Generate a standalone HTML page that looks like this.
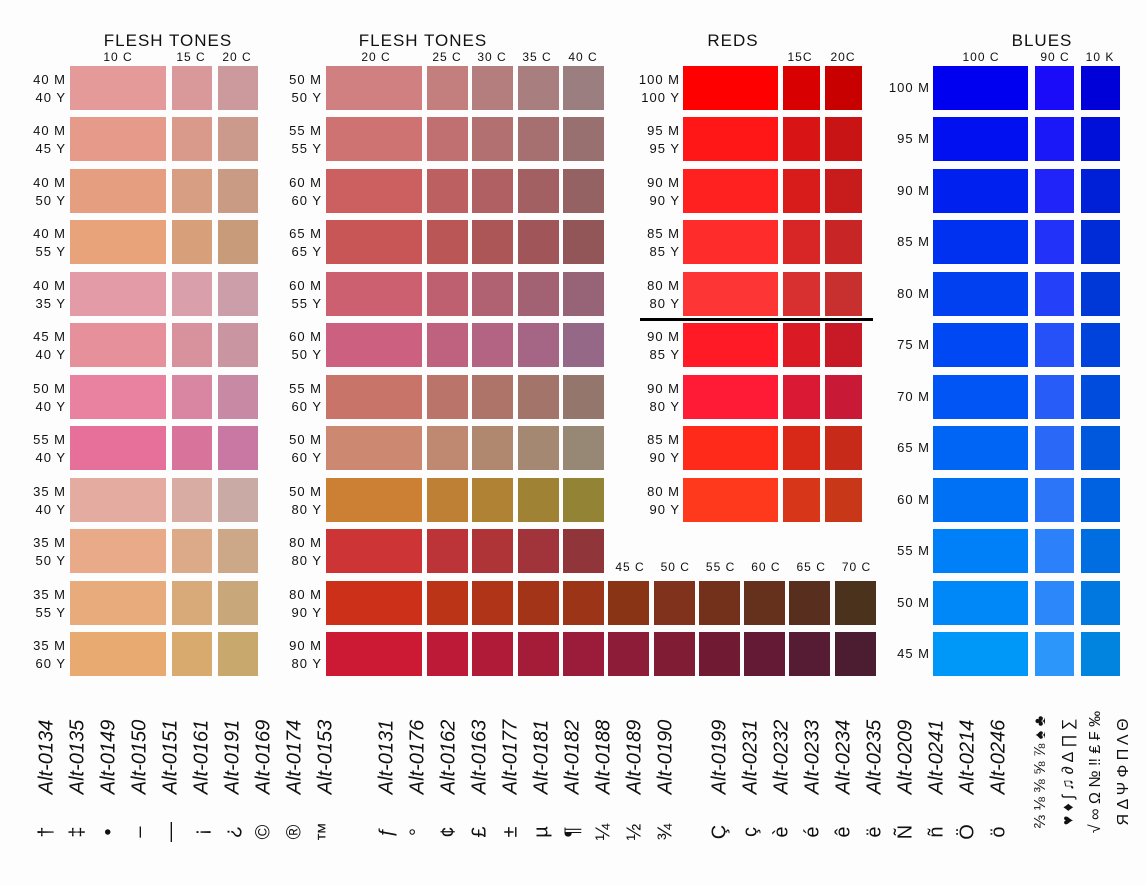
<!DOCTYPE html>
<html><head><meta charset="utf-8"><style>
html,body{margin:0;padding:0;background:#fdfdfd;}
#root{position:relative;width:1146px;height:885px;overflow:hidden;font-family:"Liberation Sans","DejaVu Sans",sans-serif;color:#111;}
.sw{position:absolute;}
.lab{position:absolute;font-size:13px;letter-spacing:1px;text-align:right;line-height:18px;white-space:nowrap;}
.hd{position:absolute;font-size:17px;letter-spacing:1px;transform:translate(-50%,-50%);white-space:nowrap;}
.ch{position:absolute;font-size:12px;letter-spacing:1px;transform:translate(-50%,-50%);white-space:nowrap;}
.rot{position:absolute;white-space:nowrap;transform:translate(-50%,-50%) rotate(-90deg);}
</style></head><body>
<div id="root"></div>
<script>
// ---------- data ----------
const s1Rows=[["40 M","40 Y"],["40 M","45 Y"],["40 M","50 Y"],["40 M","55 Y"],["40 M","35 Y"],["45 M","40 Y"],["50 M","40 Y"],["55 M","40 Y"],["35 M","40 Y"],["35 M","50 Y"],["35 M","55 Y"],["35 M","60 Y"]];
const s1Cols=["10 C","15 C","20 C"];
const s1Colors=[
["#e39a98","#d9999a","#cc9a9c"],["#e69b8a","#d99a8c","#cc9a8c"],["#e69e80","#d89e83","#c99b84"],["#e8a37a","#d8a07a","#c89c7a"],
["#e49ba8","#d99faa","#cc9eaa"],["#e6909c","#d8929e","#c895a0"],["#e882a0","#d886a2","#c889a4"],["#e6709a","#d8749c","#c878a2"],
["#e4aca0","#d8aca2","#caaaa4"],["#e8aa88","#dcaa88","#cca888"],["#e8ac7c","#d8aa7a","#c8a87a"],["#e8aa70","#d8aa6e","#c8a86c"]];
const s2Rows=[["50 M","50 Y"],["55 M","55 Y"],["60 M","60 Y"],["65 M","65 Y"],["60 M","55 Y"],["60 M","50 Y"],["55 M","60 Y"],["50 M","60 Y"],["50 M","80 Y"],["80 M","80 Y"],["80 M","90 Y"],["90 M","80 Y"]];
const s2Cols=["20 C","25 C","30 C","35 C","40 C","45 C","50 C","55 C","60 C","65 C","70 C"];
const s2Colors=[
["#d08080","#c27f7e","#b57e7e","#a87e7e","#9a7e80"],["#cf7272","#c07070","#b27070","#a67070","#987070"],
["#cc6060","#bd6062","#b06062","#a26062","#946262"],["#c85656","#bb5656","#ad5658","#a05658","#925658"],
["#cc6070","#be6070","#b06272","#a36274","#966476"],["#cc6080","#bf6280","#b26482","#a46684","#966888"],
["#c87468","#bb746a","#ae746a","#a2746a","#94766c"],["#cc8870","#bf8870","#b08870","#a48872","#968874"],
["#cc8034","#be8034","#b08234","#a08234","#928434"],["#cc3436","#bc3438","#ae3438","#a0343a","#90363a"],
["#cc3018","#bc3418","#b03418","#a43418","#9c3418","#8a3416","#80321c","#73301a","#65301c","#582e1e","#4b321c"],
["#cc1a34","#bc1a36","#b01c38","#a41c38","#9a1c3a","#8c1c38","#801c34","#701a34","#641a34","#561c34","#4c1c30"]];
const redRows=[["100 M","100 Y"],["95 M","95 Y"],["90 M","90 Y"],["85 M","85 Y"],["80 M","80 Y"],["90 M","85 Y"],["90 M","80 Y"],["85 M","90 Y"],["80 M","90 Y"]];
const redCols=["","15 C","20C"];
const redColors=[["#ff0000","#d80000","#c80000"],["#ff1616","#d81414","#c81414"],["#ff2020","#d81c1c","#c81c1c"],["#ff2c2c","#d82626","#c82626"],["#fe3535","#d83030","#c83030"],["#ff1a26","#da1a24","#c81a26"],["#ff1a36","#da1a34","#c81a36"],["#ff2a1a","#d82818","#c82a1a"],["#ff3a1c","#d83618","#c83818"]];
const blueRows=["100 M","95 M","90 M","85 M","80 M","75 M","70 M","65 M","60 M","55 M","50 M","45 M"];
const blueCols=["100 C","90 C","10 K"];
const blueColors=[["#0000f0","#1a0cf8","#0000d8"],["#0010f0","#1a18f8","#0010d8"],["#0020f0","#2024f8","#0020d8"],["#0030f0","#2232f8","#002cd8"],
["#0040f0","#2440f8","#0038d8"],["#0048f4","#2650f8","#0042dc"],["#0055f4","#285cf8","#004cdc"],["#0064f4","#2a68f8","#0058dc"],
["#0070f4","#2c74f8","#0062e0"],["#0080f8","#2c80fa","#006ee0"],["#0088f8","#2c88fa","#0078e0"],["#0098f8","#2c96fa","#0084e0"]];
const altCodes=["Alt-0134","Alt-0135","Alt-0149","Alt-0150","Alt-0151","Alt-0161","Alt-0191","Alt-0169","Alt-0174","Alt-0153","Alt-0131","Alt-0176","Alt-0162","Alt-0163","Alt-0177","Alt-0181","Alt-0182","Alt-0188","Alt-0189","Alt-0190","Alt-0199","Alt-0231","Alt-0232","Alt-0233","Alt-0234","Alt-0235","Alt-0209","Alt-0241","Alt-0214","Alt-0246"];
const altGlyphs=["†","‡","•","–","—","¡","¿","©","®","™","ƒ","°","¢","£","±","µ","¶","¼","½","¾","Ç","ç","è","é","ê","ë","Ñ","ñ","Ö","ö"];
const extraLines=["⅔ ⅛ ⅜ ⅝ ⅞ ♠ ♣","♥ ♦ ʃ ♫ ∂ ∆ ∏ ∑","√ ∞ Ω № ‼ ₤ ₣ ‰","Я Δ Ψ Φ Π Λ Θ"];

// ---------- layout ----------
const root=document.getElementById('root');
const rowY=i=>66+i*51.45, RH=44;
function add(cls,txt,css){const d=document.createElement('div');d.className=cls;if(txt!==null)d.innerHTML=txt;Object.assign(d.style,css);root.appendChild(d);return d;}
function section(key,rows,colors,colX,colW,labelRight,single){
  rows.forEach((r,i)=>{
    const y=rowY(i);
    const l=add('lab',single?r:r[0]+'<br>'+r[1],{right:(1146-labelRight)+'px',top:(single?y+13:y+5)+'px'});
    
    
    colors[i].forEach((c,j)=>{
      const s=add('sw',null,{left:colX(j)+'px',top:y+'px',width:colW(j)+'px',height:RH+'px',background:c});
      
      
    });
  });
}
section('flesh1',s1Rows,s1Colors,j=>j==0?70:172+(j-1)*46,j=>j==0?96:40,66,false);
section('flesh2',s2Rows,s2Colors,j=>j==0?326:427+(j-1)*45.3,j=>j==0?96:41,322,false);
section('reds',redRows,redColors,j=>j==0?683:783+(j-1)*42,j=>j==0?95:37,680,false);
section('blues',blueRows,blueColors,j=>j==0?933:1035+(j-1)*46,j=>j==0?95:39,930,true);

[["FLESH TONES",168],["FLESH TONES",423],["REDS",733],["BLUES",1042]].forEach(h=>{
  const d=add('hd',h[0],{left:h[1]+'px',top:'41px'});
  
  
});
const chX=[[s1Cols,[118,191,237]],[s2Cols.slice(0,5),[376,447,492,537,583]],[["15C","20C"],[800,843]],[blueCols,[981,1055,1100]]];
chX.forEach(g=>g[0].forEach((t,k)=>{
  const d=add('ch',t,{left:g[1][k]+'px',top:'57px'});
  
  
}));
s2Cols.slice(5).forEach((t,k)=>{
  const d=add('ch',t,{left:(630+k*45.3)+'px',top:'567px'});
  
  
});
const ln=add('sw',null,{left:'640px',top:'318px',width:'233px',height:'3px',background:'#000'});



altCodes.forEach((t,i)=>{
  const x=i<10?47+i*31:(i<20?387+(i-10)*31:720+(i-20)*31);
  const a=add('rot',t,{left:x+'px',top:'757px',fontSize:'20px',fontStyle:'italic'});
  
  
  const g=add('rot',altGlyphs[i],{left:x+'px',top:'832px',fontSize:'20px'});
  
  
});
extraLines.forEach((t,i)=>{
  const e=add('rot',t,{left:(1041+i*27.5)+'px',top:'772px',fontSize:'16px'});
  
  
});
</script>
</body></html>
